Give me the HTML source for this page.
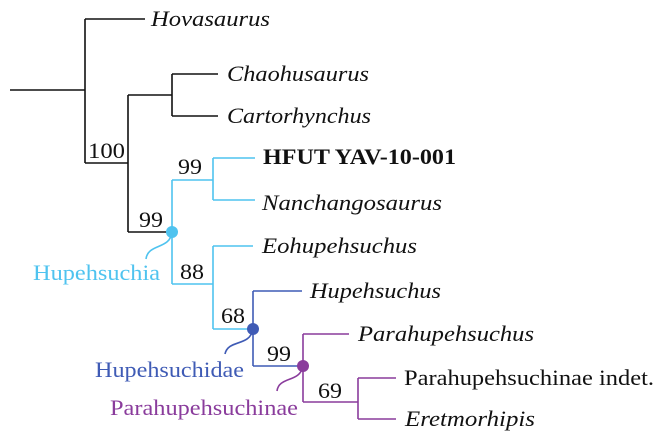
<!DOCTYPE html>
<html><head><style>body{margin:0;background:#fff}svg{display:block}text{font-family:"Liberation Serif","Times New Roman",serif;font-size:22px}</style></head><body>
<svg width="659" height="442" viewBox="0 0 659 442" xmlns="http://www.w3.org/2000/svg">
<g fill="none" stroke-width="1.6">
<path d="M10 90H85M85 19V163M85 19H145M85 163H128M128 95V232M128 95H172M172 74V116M172 74H218M172 116H218M128 232H172" stroke="#111"/>
<path d="M172 180V284M172 180H213M213 158V200M213 158H255M213 200H255M172 284H213M213 246V329M213 246H253M213 329H253" stroke="#4fc3ef"/>
<path d="M253 291V366M253 291H302M253 366H303" stroke="#3f5bb5"/>
<path d="M303 334V402M303 334H349M303 402H358M358 378V419M358 378H396M358 419H396" stroke="#8a3c9c"/>
<path d="M172 232C170 250 148 243 146 259" stroke="#4fc3ef"/>
<path d="M253 329C250 347 228 339 225 354" stroke="#3f5bb5"/>
<path d="M303 366C300 383 279 376 277 391" stroke="#8a3c9c"/>
</g>
<circle cx="172" cy="232" r="6" fill="#4fc3ef"/>
<circle cx="253" cy="329" r="6" fill="#3f5bb5"/>
<circle cx="303" cy="366" r="6" fill="#8a3c9c"/>
<g fill="#111">
<g font-style="italic">
<text x="151" y="26" textLength="119" lengthAdjust="spacingAndGlyphs">Hovasaurus</text>
<text x="227" y="81" textLength="142" lengthAdjust="spacingAndGlyphs">Chaohusaurus</text>
<text x="227" y="123" textLength="144" lengthAdjust="spacingAndGlyphs">Cartorhynchus</text>
<text x="262" y="210" textLength="180" lengthAdjust="spacingAndGlyphs">Nanchangosaurus</text>
<text x="262" y="253" textLength="155" lengthAdjust="spacingAndGlyphs">Eohupehsuchus</text>
<text x="310" y="298" textLength="131" lengthAdjust="spacingAndGlyphs">Hupehsuchus</text>
<text x="358" y="341" textLength="176" lengthAdjust="spacingAndGlyphs">Parahupehsuchus</text>
<text x="405" y="426" textLength="130" lengthAdjust="spacingAndGlyphs">Eretmorhipis</text>
</g>
<text x="263" y="164" font-weight="bold" textLength="193" lengthAdjust="spacingAndGlyphs">HFUT YAV-10-001</text>
<text x="404" y="385" textLength="250" lengthAdjust="spacingAndGlyphs">Parahupehsuchinae indet.</text>
<text x="88" y="158" textLength="37" lengthAdjust="spacingAndGlyphs">100</text>
<text x="178" y="174" textLength="24" lengthAdjust="spacingAndGlyphs">99</text>
<text x="139" y="227" textLength="24" lengthAdjust="spacingAndGlyphs">99</text>
<text x="180" y="279" textLength="24" lengthAdjust="spacingAndGlyphs">88</text>
<text x="221" y="323" textLength="24" lengthAdjust="spacingAndGlyphs">68</text>
<text x="267" y="361" textLength="24" lengthAdjust="spacingAndGlyphs">99</text>
<text x="318" y="398" textLength="24" lengthAdjust="spacingAndGlyphs">69</text>
</g>
<text x="33" y="280" fill="#4fc3ef" textLength="127" lengthAdjust="spacingAndGlyphs">Hupehsuchia</text>
<text x="95" y="377" fill="#3f5bb5" textLength="149" lengthAdjust="spacingAndGlyphs">Hupehsuchidae</text>
<text x="110" y="415" fill="#8a3c9c" textLength="188" lengthAdjust="spacingAndGlyphs">Parahupehsuchinae</text>
</svg>
</body></html>
